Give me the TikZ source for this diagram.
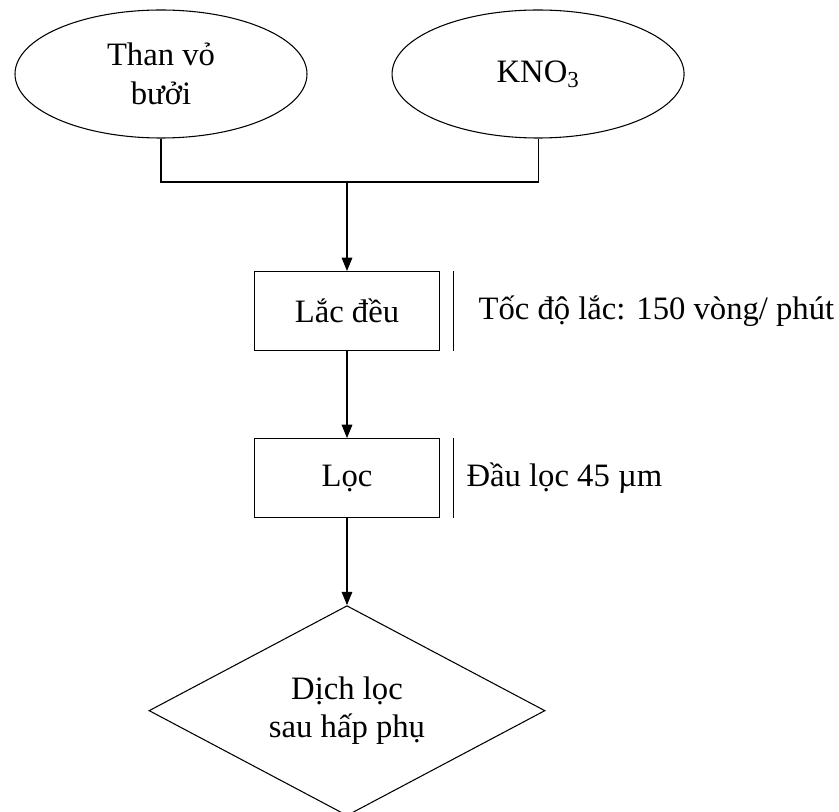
\documentclass[tikz,border=0pt]{standalone}
\usepackage{fontspec}
\setmainfont{Liberation Serif}
\usepackage{tikz}
\usetikzlibrary{positioning,shapes.geometric,arrows.meta}
\tikzset{oval node/.style={ellipse,draw,minimum width=219pt,minimum height=96pt,inner sep=0pt,align=center}}
\tikzset{box node/.style={rectangle,draw,minimum width=138.75pt,minimum height=59.25pt,inner sep=0pt}}
\tikzset{end node/.style={diamond,draw,aspect=1.9,minimum width=297pt,minimum height=157.5pt,inner sep=0pt,align=center}}
\tikzset{note node/.style={inner sep=0pt}}

\begin{document}
\begin{tikzpicture}[line width=0.8pt, font=\fontsize{24.5pt}{29pt}\selectfont, >={Triangle[length=10pt,width=8pt]}]
            \useasboundingbox (0,0) rectangle (629.25pt,-609pt);
            \node[oval node] (than) at (120.75pt,-55.5pt) {Than vỏ\\bưởi};
            \node[oval node] (kno) [right = 63pt of than] {KNO\textsubscript{3}};
            \coordinate (join) at (260.25pt,-136.5pt);
            \node[box node] (lac) [below = 66.75pt of join] {Lắc đều};
            \node[box node] (loc) [below = 65.25pt of lac] {Lọc};
            \node[end node] (dich) [below = 65.25pt of loc] {Dịch lọc\\sau hấp phụ};
            \node[note node] (lacnote) [right = 28.5pt of lac] {Tốc độ lắc: 150 vòng/ phút};
            \node[note node] (locnote) [right = 19.5pt of loc] {Đầu lọc 45 µm};
            
            \draw (than.south) |- (join) -| (kno.south);
            \draw ([xshift=9.75pt]lac.north east) -- ([xshift=9.75pt]lac.south east);
            \draw ([xshift=9.75pt]loc.north east) -- ([xshift=9.75pt]loc.south east);
            \draw[->] (join) -- (lac);
            \draw[->] (lac) -- (loc);
            \draw[->] (loc) -- (dich);
        \end{tikzpicture}
\end{document}
